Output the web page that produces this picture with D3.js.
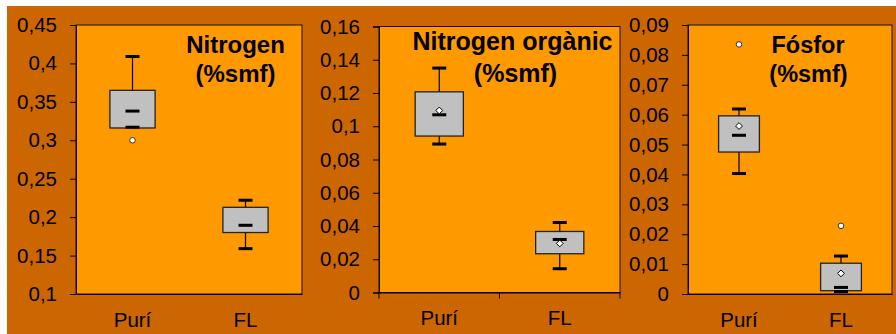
<!DOCTYPE html>
<html>
<head>
<meta charset="utf-8">
<script src="https://cdn.jsdelivr.net/npm/d3@7"></script>
<style>
  body { margin: 0; background: #fff; }
  text { font-family: "Liberation Sans", Arial, sans-serif; }
</style>
</head>
<body>
<div id="chart"></div>
<script>
// DATA
const categories = ["Purí", "FL"]

// per category: [lower whisker, Q1, median, Q3, upper whisker]
const nitrogenBoxes = [[0.317, 0.316, 0.338, 0.365, 0.409], [0.159, 0.180, 0.1894, 0.2128, 0.222]]
const nitrogenMeans = [null, null]
const nitrogenOutliers = [[0.300], []]
const nitrogenTicks = [0.1, 0.15, 0.2, 0.25, 0.3, 0.35, 0.4, 0.45]

const organicBoxes = [[0.0893, 0.0941, 0.1069, 0.1207, 0.135], [0.0143, 0.0233, 0.0319, 0.0367, 0.0421]]
const organicMeans = [0.1095, 0.0295]
const organicOutliers = [[], []]
const organicTicks = [0, 0.02, 0.04, 0.06, 0.08, 0.1, 0.12, 0.14, 0.16]

const phosphorusBoxes = [[0.0403, 0.0475, 0.0531, 0.0596, 0.0619], [0.0008, 0.0011, 0.0022, 0.0103, 0.0127]]
const phosphorusMeans = [0.0562, 0.0069]
const phosphorusOutliers = [[0.0835], [0.0228]]
const phosphorusTicks = [0, 0.01, 0.02, 0.03, 0.04, 0.05, 0.06, 0.07, 0.08, 0.09]

const titles = [["Nitrogen", "(%smf)"], ["Nitrogen orgànic", "(%smf)"], ["Fósfor", "(%smf)"]]

// LAYOUT
const width = 896
const height = 334
const panels = [
  { boxes: nitrogenBoxes, means: nitrogenMeans, outliers: nitrogenOutliers, ticks: nitrogenTicks,
    title: titles[0], left: 76, right: 302, top: 25, bottom: 294,
    titleX: [235.5, 235.5], titleY: [53, 82], titleSize: 24, xTicks: false },
  { boxes: organicBoxes, means: organicMeans, outliers: organicOutliers, ticks: organicTicks,
    title: titles[1], left: 379, right: 620, top: 26.5, bottom: 292.5,
    titleX: [512.5, 515.5], titleY: [49.5, 81.5], titleSize: 25, xTicks: true },
  { boxes: phosphorusBoxes, means: phosphorusMeans, outliers: phosphorusOutliers, ticks: phosphorusTicks,
    title: titles[2], left: 688, right: 892, top: 25, bottom: 294,
    titleX: [808, 808.5], titleY: [53, 82], titleSize: 23.5, xTicks: false },
]

const fmt = d3.formatLocale({ decimal: ",", thousands: ".", grouping: [3], currency: ["", ""] }).format("~g")

const svg = d3.select("#chart")
  .append("svg")
  .attr("width", width)
  .attr("height", height)

svg.append("rect")
  .attr("x", 7)
  .attr("y", 6)
  .attr("width", width - 7)
  .attr("height", height - 6)
  .attr("fill", "#CC6600")

panels.forEach((p) => {
  const yScale = d3.scaleLinear()
    .domain(d3.extent(p.ticks))
    .range([p.bottom, p.top])
  const xScale = d3.scaleBand()
    .domain(categories)
    .range([p.left, p.right])

  const g = svg.append("g")

  // plot area
  g.append("rect")
    .attr("x", p.left)
    .attr("y", p.top)
    .attr("width", p.right - p.left)
    .attr("height", p.bottom - p.top)
    .attr("fill", "#FF9900")
    .attr("stroke", "#1a0d00")
    .attr("stroke-width", 1)

  // y axis
  const yAxis = g.append("g")
    .attr("transform", `translate(${p.left},0)`)
    .call(d3.axisLeft(yScale).tickValues(p.ticks).tickFormat(fmt).tickSize(6).tickPadding(13))
  yAxis.select(".domain").attr("stroke", "#000")
  yAxis.selectAll(".tick line").attr("stroke", "#000")
  yAxis.selectAll("text")
    .attr("font-size", "20.5px")
    .attr("fill", "#000")
    .style("font-family", "'Liberation Sans', Arial, sans-serif")

  // x axis
  const xAxis = g.append("g")
    .attr("transform", `translate(0,${p.bottom})`)
    .call(d3.axisBottom(xScale).tickSize(0).tickPadding(0))
  xAxis.select(".domain").attr("stroke", "#000")
  xAxis.selectAll("text")
    .attr("y", 32.5)
    .attr("dy", 0)
    .attr("font-size", "20.5px")
    .attr("fill", "#000")
    .style("font-family", "'Liberation Sans', Arial, sans-serif")
  if (p.xTicks) {
    const bounds = [...categories.map((c) => xScale(c)), p.right]
    g.selectAll(".xtick").data(bounds).enter()
      .append("line")
      .attr("x1", (d) => d)
      .attr("x2", (d) => d)
      .attr("y1", p.bottom)
      .attr("y2", p.bottom + 6)
      .attr("stroke", "#000")
  }

  // boxes
  const bw = xScale.bandwidth() * 0.4
  const capW = 14
  categories.forEach((c, i) => {
    const [lo, q1, med, q3, hi] = p.boxes[i]
    const cx = xScale(c) + xScale.bandwidth() / 2

    g.append("line")
      .attr("x1", cx).attr("x2", cx)
      .attr("y1", yScale(hi)).attr("y2", yScale(lo))
      .attr("stroke", "#000")
      .attr("stroke-width", 1.2)

    g.append("rect")
      .attr("x", cx - bw / 2)
      .attr("y", yScale(q3))
      .attr("width", bw)
      .attr("height", yScale(q1) - yScale(q3))
      .attr("fill", "#C0C0C0")
      .attr("stroke", "#222")
      .attr("stroke-width", 1.3)

    ;[hi, lo, med].forEach((v) => {
      g.append("rect")
        .attr("x", cx - capW / 2)
        .attr("y", yScale(v) - 1.5)
        .attr("width", capW)
        .attr("height", 3)
        .attr("fill", "#000")
    })

    if (p.means[i] != null) {
      g.append("path")
        .attr("d", d3.symbol(d3.symbolDiamond2, 30)())
        .attr("transform", `translate(${cx},${yScale(p.means[i])})`)
        .attr("fill", "#fff")
        .attr("stroke", "#000")
        .attr("stroke-width", 1)
    }

    p.outliers[i].forEach((v) => {
      g.append("circle")
        .attr("cx", cx)
        .attr("cy", yScale(v))
        .attr("r", 2.8)
        .attr("fill", "#fff")
        .attr("stroke", "#333")
        .attr("stroke-width", 1)
    })
  })

  // title
  p.title.forEach((t, k) => {
    g.append("text")
      .attr("x", p.titleX[k])
      .attr("y", p.titleY[k])
      .attr("text-anchor", "middle")
      .attr("font-size", p.titleSize + "px")
      .attr("font-weight", "bold")
      .attr("fill", "#000")
      .text(t)
  })
})
</script>
</body>
</html>
